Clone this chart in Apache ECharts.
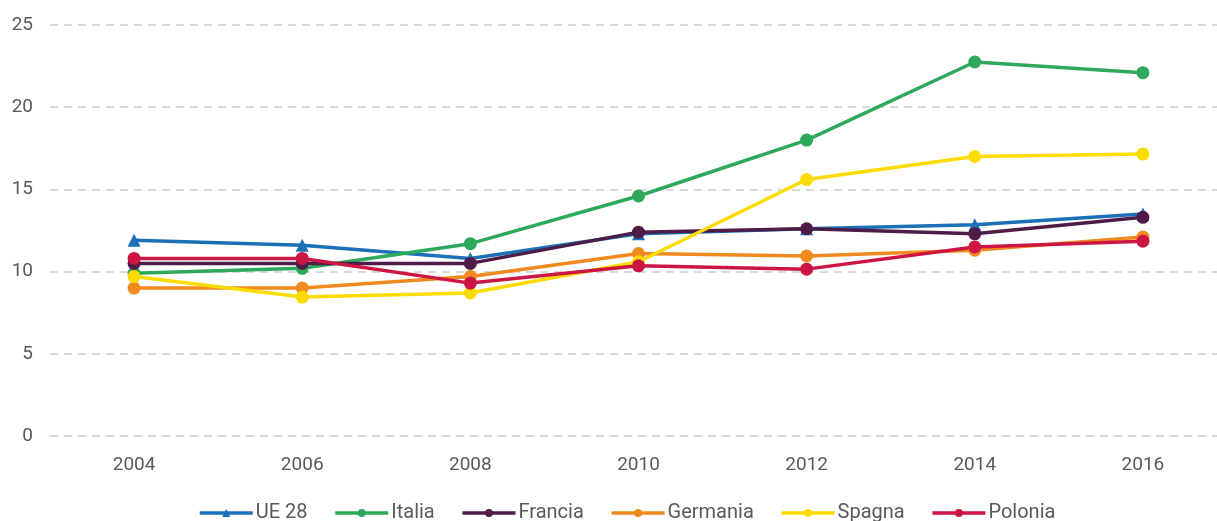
<!DOCTYPE html>
<html lang="it">
<head>
    <meta charset="UTF-8">
    <title>Chart</title>
    <style>
        html, body { margin: 0; padding: 0; background: #fff; }
        #main { width: 1217px; height: 521px; }
    </style>
</head>
<body>
    <div id="main"></div>
</body>
<script src="https://cdn.jsdelivr.net/npm/echarts@6.0.0/dist/echarts.min.js"></script>
<script>
    const years = ['2004', '2006', '2008', '2010', '2012', '2014', '2016']
    const ue28 = [11.9, 11.6, 10.8, 12.3, 12.6, 12.85, 13.5]
    const italia = [9.9, 10.2, 11.7, 14.6, 18.0, 22.75, 22.1]
    const francia = [10.5, 10.5, 10.5, 12.4, 12.6, 12.3, 13.3]
    const germania = [9.0, 9.0, 9.7, 11.1, 10.95, 11.3, 12.1]
    const spagna = [9.7, 8.45, 8.7, 10.6, 15.6, 17.0, 17.15]
    const polonia = [10.8, 10.8, 9.3, 10.35, 10.15, 11.5, 11.85]

    function line(name, data, color, symbol) {
        return {
            name: name,
            type: 'line',
            data: data,
            symbol: symbol || 'circle',
            symbolSize: 13,
            lineStyle: { width: 3.5, color: color },
            itemStyle: { color: color },
            emphasis: { disabled: true }
        }
    }

    const chart = echarts.init(document.getElementById('main'))
    chart.setOption({
        animation: false,
        textStyle: { fontFamily: 'Roboto' },
        legend: {
            top: 498,
            left: 193,
            itemWidth: 53,
            itemHeight: 10,
            itemGap: 26,
            textStyle: { color: '#595959', fontSize: 20, fontFamily: 'Roboto', padding: [0, 0, 0, -2] },
            itemStyle: { borderWidth: 0 },
            lineStyle: { width: 3.5 }
        },
        grid: { left: 50, right: -10, top: 25, bottom: 85, outerBoundsMode: 'none' },
        xAxis: {
            type: 'category',
            data: years,
            axisLine: { show: false },
            axisTick: { show: false },
            axisLabel: { color: '#595959', fontSize: 19, margin: 20 }
        },
        yAxis: {
            type: 'value',
            min: 0,
            max: 25,
            interval: 5,
            axisLine: { show: false },
            axisTick: { show: false },
            axisLabel: { color: '#595959', fontSize: 19, margin: 17 },
            splitLine: { lineStyle: { color: '#d9d9d9', type: [8, 6], width: 2 } }
        },
        series: [
            line('UE 28', ue28, '#1b70b8', 'triangle'),
            line('Italia', italia, '#2ea95c'),
            line('Francia', francia, '#4f1c48'),
            line('Germania', germania, '#f08a1e'),
            line('Spagna', spagna, '#fcdc00'),
            line('Polonia', polonia, '#cd1543')
        ]
    })
</script>
</html>
